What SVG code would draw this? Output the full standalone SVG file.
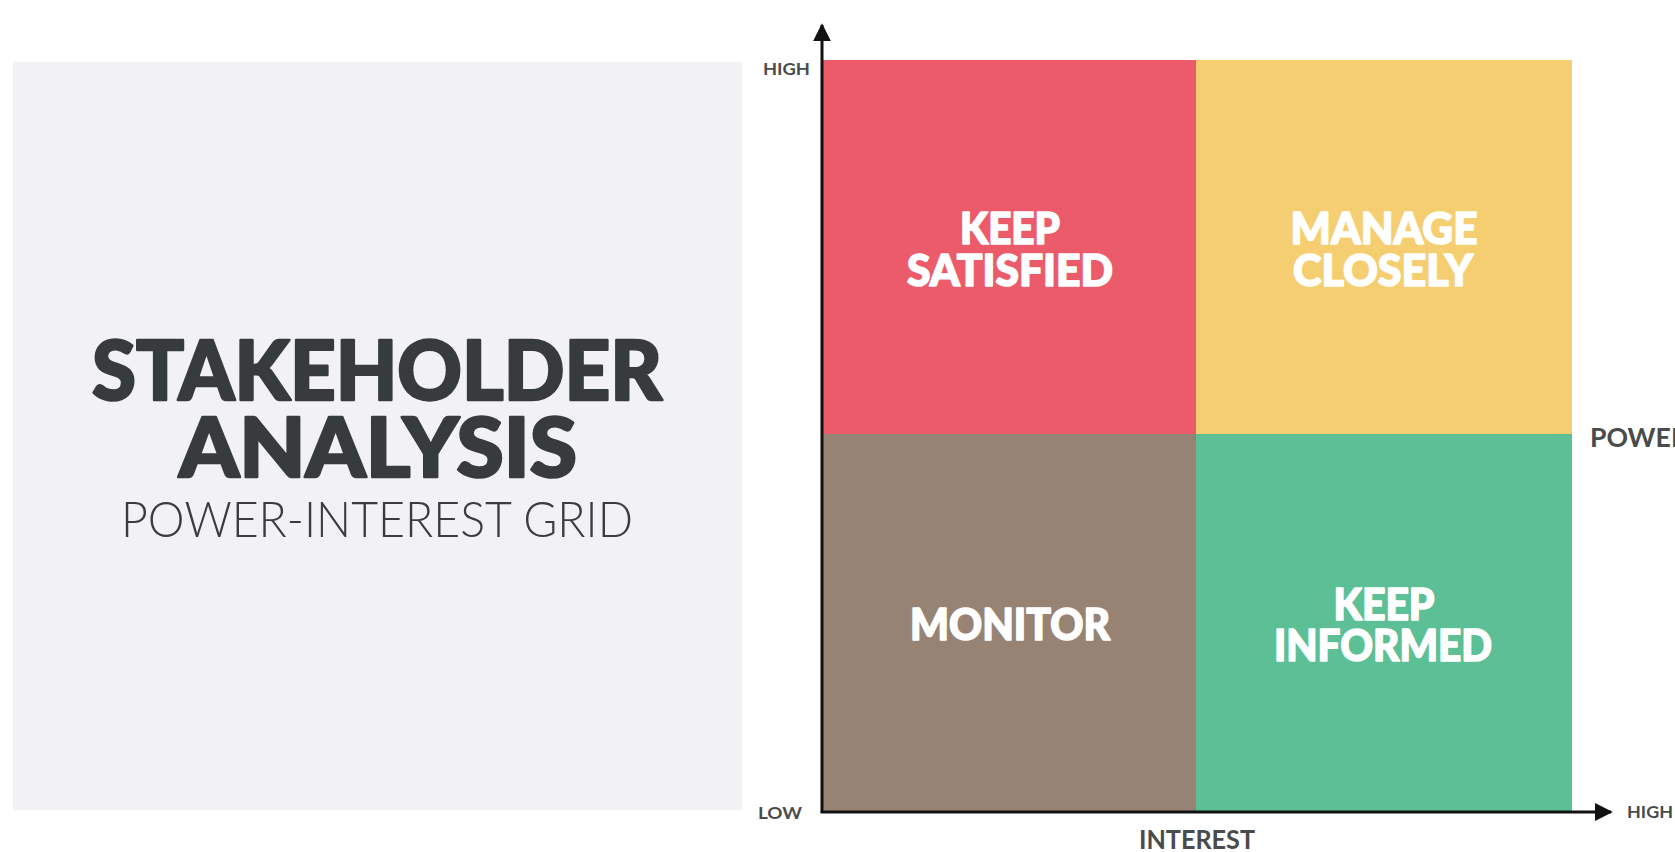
<svg xmlns="http://www.w3.org/2000/svg" width="1675" height="852" viewBox="0 0 1675 852">
  <defs>
    <style>
      .q { font-family: Lato, "Liberation Sans", sans-serif; font-weight: 900; font-size: 44px; fill: #ffffff; stroke: #ffffff; stroke-width: 1.6; stroke-linejoin: round; text-anchor: middle; }
      .ax { font-family: Lato, "Liberation Sans", sans-serif; font-weight: 700; fill: #4a4b4d; }
      .axis { stroke: #111111; stroke-width: 3; fill: none; }
      .title { font-family: Lato, "Liberation Sans", sans-serif; font-weight: 900; font-size: 82px; fill: #383b3e; stroke: #383b3e; stroke-width: 2.5; stroke-linejoin: round; text-anchor: middle; }
      .sub { font-family: Lato, "Liberation Sans", sans-serif; font-weight: 300; font-size: 50px; fill: #3a3d40; text-anchor: middle; }
    </style>
    <marker id="arrow" viewBox="0 0 10 10" refX="9" refY="5" markerWidth="6" markerHeight="6" markerUnits="strokeWidth" orient="auto">
      <path d="M0,0 L10,5 L0,10 Z" fill="#111111"/>
    </marker>
  </defs>
  <rect x="0" y="0" width="1675" height="852" fill="#ffffff"/>

  <g id="title-panel">
    <rect x="13" y="62" width="729" height="748" fill="#f2f2f4"/>
    <text class="title" x="377" y="400" textLength="570" lengthAdjust="spacingAndGlyphs">STAKEHOLDER</text>
    <text class="title" x="378" y="477" textLength="398" lengthAdjust="spacingAndGlyphs">ANALYSIS</text>
    <text class="sub" x="377" y="537" textLength="512" lengthAdjust="spacingAndGlyphs">POWER-INTEREST GRID</text>
  </g>

  <g id="keep-satisfied">
    <rect x="822" y="60" width="374" height="374" fill="#ec5b69"/>
    <text class="q" x="1010" y="244" textLength="100" lengthAdjust="spacingAndGlyphs">KEEP</text>
    <text class="q" x="1010" y="286" textLength="206" lengthAdjust="spacingAndGlyphs">SATISFIED</text>
  </g>

  <g id="manage-closely">
    <rect x="1196" y="60" width="376" height="374" fill="#f6ce72"/>
    <text class="q" x="1384" y="244" textLength="187" lengthAdjust="spacingAndGlyphs">MANAGE</text>
    <text class="q" x="1383" y="286" textLength="180" lengthAdjust="spacingAndGlyphs">CLOSELY</text>
  </g>

  <g id="monitor">
    <rect x="822" y="434" width="374" height="377" fill="#978373"/>
    <text class="q" x="1010" y="640" textLength="200" lengthAdjust="spacingAndGlyphs">MONITOR</text>
  </g>

  <g id="keep-informed">
    <rect x="1196" y="434" width="376" height="377" fill="#5cbf95"/>
    <text class="q" x="1384" y="620" textLength="101" lengthAdjust="spacingAndGlyphs">KEEP</text>
    <text class="q" x="1383" y="661" textLength="218" lengthAdjust="spacingAndGlyphs">INFORMED</text>
  </g>

  <g id="connectors">
    <line class="axis" x1="822" y1="812" x2="822" y2="25" marker-end="url(#arrow)"/>
    <line class="axis" x1="820.5" y1="812" x2="1611" y2="812" marker-end="url(#arrow)"/>
  </g>

  <g id="axis-labels">
    <text class="ax" x="810" y="75" font-size="17" text-anchor="end" textLength="47" lengthAdjust="spacingAndGlyphs">HIGH</text>
    <text class="ax" x="758" y="819" font-size="17" textLength="44" lengthAdjust="spacingAndGlyphs">LOW</text>
    <text class="ax" x="1627" y="818" font-size="17" textLength="46" lengthAdjust="spacingAndGlyphs">HIGH</text>
    <text class="ax" x="1197" y="849" font-size="26" text-anchor="middle" textLength="116" lengthAdjust="spacingAndGlyphs">INTEREST</text>
    <text class="ax" x="1590" y="447" font-size="27" textLength="98" lengthAdjust="spacingAndGlyphs">POWER</text>
  </g>
</svg>
